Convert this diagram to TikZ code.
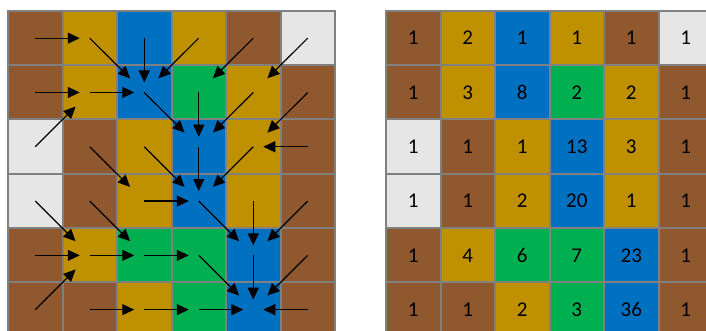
\documentclass[tikz,border=0pt]{standalone}
\usepackage{fontspec}
\setmainfont{Carlito}
\usetikzlibrary{arrows.meta}

\definecolor{soil}{RGB}{143,88,46}
\definecolor{gold}{RGB}{191,144,0}
\definecolor{water}{RGB}{0,112,192}
\definecolor{grass}{RGB}{0,176,80}
\definecolor{rock}{RGB}{231,230,230}
\definecolor{gridline}{RGB}{128,128,128}

\tikzset{
  cell/.style={draw=gridline, line width=2pt, minimum size=54.5pt, inner sep=0pt, outer sep=0pt, font=\fontsize{21}{25}\selectfont},
  flow/.style={-{Triangle[length=12pt,width=11pt]}, line width=1.2pt, shorten >=10pt},
  flowd/.style={flow, shorten >=20pt},
}

\begin{document}
\begin{tikzpicture}[x=1pt, y=-1pt]
% Frame of the picture
\useasboundingbox (0,0) rectangle (706,331);
\fill[white] (0,0) rectangle (706,331);
\clip (0,0) rectangle (706,331);

% Draw both grids: colours on the left, counts on the right
\foreach \row [count=\r] in {
  {soil/1,gold/2,water/1,gold/1,soil/1,rock/1},
  {soil/1,gold/3,water/8,grass/2,gold/2,soil/1},
  {rock/1,soil/1,gold/1,water/13,gold/3,soil/1},
  {rock/1,soil/1,gold/2,water/20,gold/1,soil/1},
  {soil/1,gold/4,grass/6,grass/7,water/23,soil/1},
  {soil/1,soil/1,gold/2,grass/3,water/36,soil/1}} {
  \foreach \col/\val [count=\c] in \row {
    \node[cell, fill=\col] (L\r\c) at (54.5*\c-19.25, 54.3*\r-16.15) {};
    \node[cell, fill=\col] (R\r\c) at (54.5*\c+358.75, 54.3*\r-16.15) {\val};
  }
}

% Straight flow directions
\foreach \a/\b in {11/12, 13/23, 21/22, 22/23, 24/34, 34/44, 36/35, 43/44, 45/55,
                   51/52, 52/53, 53/54, 55/65, 62/63, 63/64, 64/65, 66/65}
  \draw[flow] (L\a.center) -- (L\b.center);

% Diagonal flow directions
\foreach \a/\b in {12/23, 14/23, 15/24, 16/25, 23/34, 25/34, 26/35, 31/22, 32/43,
                   33/44, 35/44, 41/52, 42/53, 44/55, 46/55, 54/65, 56/65, 61/52}
  \draw[flowd] (L\a.center) -- (L\b.center);
\end{tikzpicture}
\end{document}
